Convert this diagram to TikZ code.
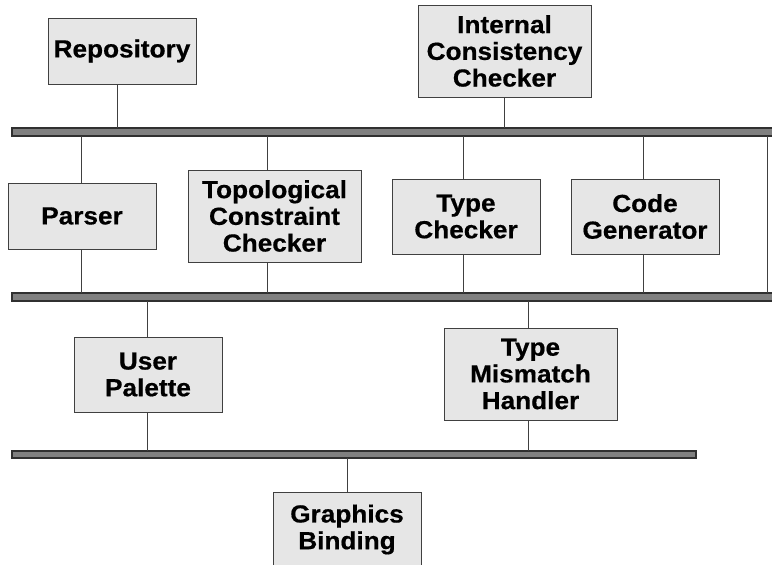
\documentclass[tikz,border=0pt]{standalone}
\usepackage{fontspec}
\setmainfont{Liberation Sans}[FakeStretch=1.06,BoldFeatures={FakeBold=0.6}]
\definecolor{boxfill}{HTML}{E6E6E6}
\definecolor{boxline}{HTML}{404040}
\definecolor{busfill}{HTML}{808080}
\definecolor{busline}{HTML}{303030}
\begin{document}
\begin{tikzpicture}[x=1pt,y=-1pt,
    module/.style={draw=boxline,fill=boxfill,line width=1pt,anchor=north west,
      minimum width=148pt,inner sep=0pt,outer sep=0pt,align=center,
      font=\fontsize{24.7}{26.7}\selectfont\bfseries},
    bus/.style={draw=busline,fill=busfill,line width=1.2pt,anchor=north west,
      minimum height=8pt,inner sep=0pt,outer sep=0pt},
    wire/.style={draw=boxline,line width=1pt}]
    \clip (0,0) rectangle (772,565);
    \useasboundingbox (0,0) rectangle (772,565);
    % buses
    \node[bus,minimum width=763pt] (bus1) at (12,128) {};
    \node[bus,minimum width=763pt] (bus2) at (12,293) {};
    \node[bus,minimum width=684pt,minimum height=7pt] (bus3) at (12,451) {};
    % modules
    \node[module,minimum height=66pt] (repo) at (48,18) {Repository};
    \node[module,minimum width=173pt,minimum height=92pt] (icc) at (418,5) {Internal\\Consistency\\Checker};
    \node[module,minimum height=66pt] (parser) at (8,183) {Parser};
    \node[module,minimum width=173pt,minimum height=92pt] (topo) at (188,170) {Topological\\Constraint\\Checker};
    \node[module,minimum height=75pt] (tchk) at (392,179) {Type\\Checker};
    \node[module,minimum height=75pt] (cgen) at (571,179) {Code\\Generator};
    \node[module,minimum height=75pt] (upal) at (74,337) {User\\Palette};
    \node[module,minimum width=173pt,minimum height=92pt] (tmis) at (444,328) {Type\\Mismatch\\Handler};
    \node[module,minimum height=75pt] (gbind) at (273,492) {Graphics\\Binding};
    \coordinate (tap) at (767,136);
    % connections
    \foreach \m/\s in {repo/-5,icc/0}
      \draw[wire] ([xshift=\s pt]\m.south) -- ([xshift=\s pt]\m.south |- bus1.north);
    \foreach \m/\s in {parser/-1,topo/-7.5,tchk/-3,cgen/-2} {
      \draw[wire] ([xshift=\s pt]\m.north) -- ([xshift=\s pt]\m.north |- bus1.south);
      \draw[wire] ([xshift=\s pt]\m.south) -- ([xshift=\s pt]\m.south |- bus2.north);
    }
    \draw[wire] (tap) -- (tap |- bus2.north);
    \foreach \m/\s in {upal/-1,tmis/-2.5} {
      \draw[wire] ([xshift=\s pt]\m.north) -- ([xshift=\s pt]\m.north |- bus2.south);
      \draw[wire] ([xshift=\s pt]\m.south) -- ([xshift=\s pt]\m.south |- bus3.north);
    }
    \draw[wire] (gbind.north) -- (gbind.north |- bus3.south);
  \end{tikzpicture}
\end{document}
